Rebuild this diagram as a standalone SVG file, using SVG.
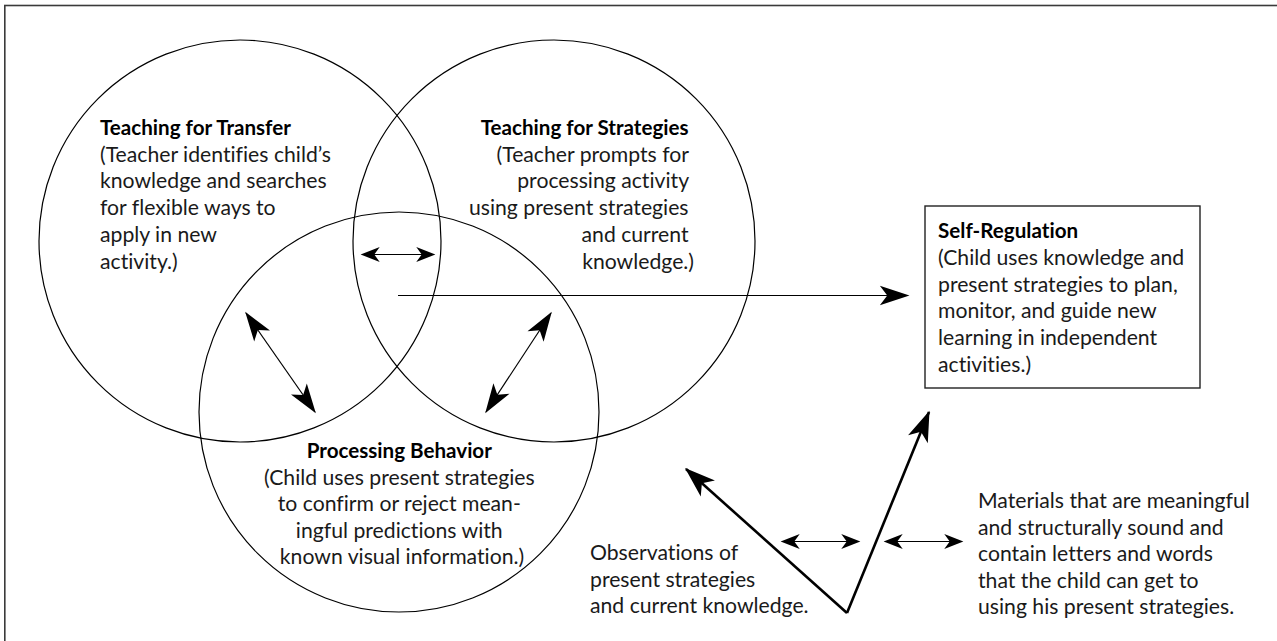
<svg xmlns="http://www.w3.org/2000/svg" width="1277" height="641" viewBox="0 0 1277 641">
  <defs>
    <style>
      .frame { fill: none; stroke: #3a3a3a; stroke-width: 1.6; }
      .ring { fill: none; stroke: #000; stroke-width: 1.2; }
      .box { fill: #fff; stroke: #222; stroke-width: 1.4; }
      .txt { font-family: Lato, "Noto Sans", sans-serif; font-size: 21.2px; fill: #1a1a1a; font-variant-ligatures: none; }
      .ttl { font-weight: bold; font-size: 20.6px; fill: #000; }
      .thin { fill: none; stroke: #000; stroke-width: 1.2; }
      .thick { fill: none; stroke: #000; stroke-width: 2.6; }
    </style>
    <!-- small barbed head for the short two-way arrows -->
    <marker id="hs" markerUnits="userSpaceOnUse" orient="auto-start-reverse" refX="0" refY="0" markerWidth="30" markerHeight="30" viewBox="-20 -10 22 20" overflow="visible">
      <path d="M1,0 L-13,-5.5 L-9,0 L-13,5.5 Z" fill="#000"/>
    </marker>
    <!-- medium head for the diagonal and long arrows -->
    <marker id="hm" markerUnits="userSpaceOnUse" orient="auto-start-reverse" refX="0" refY="0" markerWidth="40" markerHeight="40" viewBox="-25 -10 27 20" overflow="visible">
      <path d="M1,0 L-19,-6.5 L-14,0 L-19,6.5 Z" fill="#000"/>
    </marker>
    <!-- large head for the heavy V arms -->
    <marker id="hl" markerUnits="userSpaceOnUse" orient="auto" refX="0" refY="0" markerWidth="40" markerHeight="40" viewBox="-28 -12 30 24" overflow="visible">
      <path d="M1,0 L-22,-8 L-16,0 L-22,8 Z" fill="#000"/>
    </marker>
  </defs>

  <rect width="1277" height="641" fill="#fff"/>
  <!-- outer frame (open on right and bottom) -->
  <rect class="frame" x="4.8" y="5.5" width="1300" height="700"/>

  <g id="transfer">
    <circle class="ring" cx="240" cy="241" r="201"/>
    <text class="txt">
      <tspan class="ttl" x="100" y="135">Teaching for Transfer</tspan>
      <tspan x="100" y="161.7">(Teacher identifies child’s</tspan>
      <tspan x="100" y="188.4">knowledge and searches</tspan>
      <tspan x="100" y="215.1">for flexible ways to</tspan>
      <tspan x="100" y="241.8">apply in new</tspan>
      <tspan x="100" y="268.5">activity.)</tspan>
    </text>
  </g>

  <g id="strategies">
    <circle class="ring" cx="554" cy="241" r="201"/>
    <text class="txt" text-anchor="end">
      <tspan class="ttl" x="694" y="135">Teaching for Strategies</tspan>
      <tspan x="694" y="161.7">(Teacher prompts for</tspan>
      <tspan x="694" y="188.4">processing activity</tspan>
      <tspan x="694" y="215.1">using present strategies</tspan>
      <tspan x="694" y="241.8">and current</tspan>
      <tspan x="694" y="268.5">knowledge.)</tspan>
    </text>
  </g>

  <g id="processing">
    <circle class="ring" cx="399" cy="412" r="200"/>
    <text class="txt" text-anchor="middle">
      <tspan class="ttl" x="402" y="458">Processing Behavior</tspan>
      <tspan x="402" y="484.5">(Child uses present strategies</tspan>
      <tspan x="402" y="511">to confirm or reject mean-</tspan>
      <tspan x="402" y="537.5">ingful predictions with</tspan>
      <tspan x="402" y="564">known visual information.)</tspan>
    </text>
  </g>

  <g id="self-regulation">
    <rect class="box" x="925" y="206" width="275" height="182"/>
    <text class="txt">
      <tspan class="ttl" x="938" y="238">Self-Regulation</tspan>
      <tspan x="938" y="265">(Child uses knowledge and</tspan>
      <tspan x="938" y="291.7">present strategies to plan,</tspan>
      <tspan x="938" y="318.4">monitor, and guide new</tspan>
      <tspan x="938" y="345.1">learning in independent</tspan>
      <tspan x="938" y="371.8">activities.)</tspan>
    </text>
  </g>

  <g id="observations">
    <text class="txt">
      <tspan x="590" y="560">Observations of</tspan>
      <tspan x="590" y="586.7">present strategies</tspan>
      <tspan x="590" y="613.4">and current knowledge.</tspan>
    </text>
  </g>

  <g id="materials">
    <text class="txt">
      <tspan x="978" y="508">Materials that are meaningful</tspan>
      <tspan x="978" y="534.5">and structurally sound and</tspan>
      <tspan x="978" y="561">contain letters and words</tspan>
      <tspan x="978" y="587.5">that the child can get to</tspan>
      <tspan x="978" y="614">using his present strategies.</tspan>
    </text>
  </g>

  <g id="connectors">
    <!-- between the two teaching circles -->
    <line class="thin" x1="362" y1="254.5" x2="434" y2="254.5" marker-start="url(#hs)" marker-end="url(#hs)"/>
    <!-- overlap to self-regulation -->
    <line class="thin" x1="398" y1="295.5" x2="908" y2="295.5" marker-end="url(#hm)"/>
    <!-- transfer <-> processing -->
    <line class="thin" x1="246" y1="313" x2="315" y2="412" marker-start="url(#hm)" marker-end="url(#hm)"/>
    <!-- strategies <-> processing -->
    <line class="thin" x1="551" y1="313" x2="486" y2="412" marker-start="url(#hm)" marker-end="url(#hm)"/>
    <!-- heavy V: observations and materials feeding in -->
    <path class="thick" d="M847,613 L686,469" marker-end="url(#hl)"/>
    <path class="thick" d="M847,613 L929,412" marker-end="url(#hl)"/>
    <line class="thin" x1="782" y1="541.5" x2="859" y2="541.5" marker-start="url(#hs)" marker-end="url(#hs)"/>
    <line class="thin" x1="885" y1="541.5" x2="962" y2="541.5" marker-start="url(#hs)" marker-end="url(#hs)"/>
  </g>
</svg>
